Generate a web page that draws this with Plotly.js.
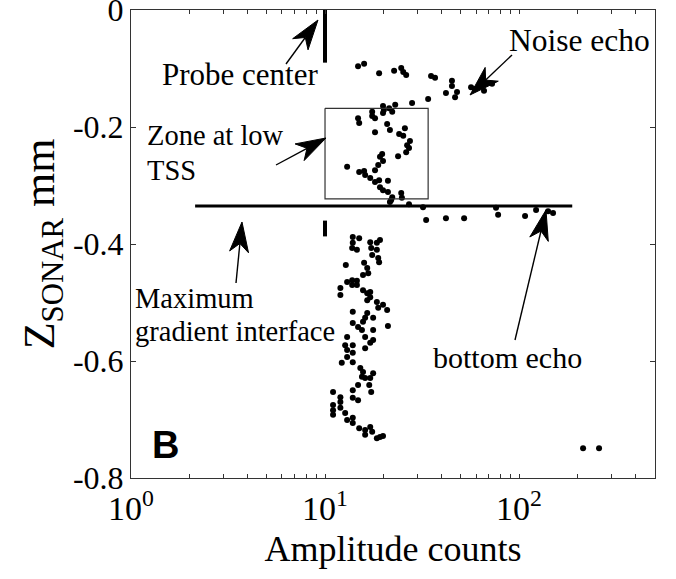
<!DOCTYPE html>
<html>
<head>
<meta charset="utf-8">
<script src="https://cdn.plot.ly/plotly-3.0.1.min.js"></script>
<style>html,body{margin:0;padding:0;background:#fff;}#chart{width:676px;height:579px;}</style>
</head>
<body>
<div id="chart"></div>
<script>
// ---- Data ----
// Noise echo and zone-at-low-TSS points (amplitude counts, Z mm)
const upperAmp = [14.8,15.9,19.0,22.7,24.7,25.3,26.2,35.2,36.9,45.1,45.1,42.0,47.9,46.8,56.6,59.3,66.0,72.6,34.0,28.1,23.0,19.9,21.4,20.1,17.5,
  17.5,18.1,19.9,22.2,14.8,15.0,20.9,21.6,25.8,18.1,24.1,25.3,27.4,26.5,27.1,26.2,19.7,19.2,19.9,23.8,18.8,18.1,13.0,15.0,15.9,16.1,17.1,18.1,19.0,21.1,
  19.2,19.9,21.1,22.2,21.9,24.7,24.9,27.1,32.0,21.6];
const upperZ = [-0.096,-0.092,-0.108,-0.104,-0.099,-0.106,-0.111,-0.113,-0.116,-0.121,-0.130,-0.142,-0.140,-0.149,-0.132,-0.135,-0.138,-0.126,-0.152,-0.159,-0.162,-0.164,-0.168,-0.171,-0.174,
  -0.181,-0.185,-0.176,-0.174,-0.185,-0.193,-0.195,-0.205,-0.202,-0.209,-0.212,-0.215,-0.224,-0.231,-0.236,-0.243,-0.246,-0.251,-0.258,-0.250,-0.265,-0.274,-0.268,-0.277,-0.275,-0.282,-0.287,-0.294,-0.291,-0.292,
  -0.303,-0.308,-0.311,-0.320,-0.325,-0.313,-0.321,-0.332,-0.337,-0.328];
// Bottom echo points
const bottomAmp = [33.2,42.0,52.1,76.1,78.0,107.4,122.4,141.1,149.7];
const bottomZ = [-0.359,-0.356,-0.356,-0.338,-0.350,-0.352,-0.342,-0.344,-0.347];
// Column of points below the interface
const lowerAmp = [13.9,15.0,13.9,13.8,14.6,17.1,18.5,19.2,17.3,18.5,17.5,18.8,19.0,12.8,15.9,16.5,16.7,15.7,13.0,13.8,14.6,14.6,13.8,12.0,12.0,
  15.7,16.5,17.1,17.1,16.5,18.5,19.9,20.9,18.8,13.9,16.5,16.1,15.7,13.9,14.8,17.7,21.1,17.7,15.5,13.0,
  12.7,13.9,13.0,13.9,13.0,12.2,13.9,16.1,17.7,17.1,16.1,15.2,15.7,15.5,17.7,16.1,17.1,16.9,14.8,17.3,13.9,13.9,14.8,
  11.0,12.0,12.0,11.0,11.0,11.0,12.0,12.7,13.0,13.9,13.9,15.0,16.1,17.1,16.1,17.5,18.5,19.2,19.9];
const lowerZ = [-0.388,-0.390,-0.398,-0.407,-0.410,-0.397,-0.398,-0.393,-0.407,-0.410,-0.419,-0.424,-0.431,-0.436,-0.432,-0.441,-0.450,-0.453,-0.465,-0.462,-0.463,-0.470,-0.470,-0.475,-0.487,
  -0.479,-0.484,-0.482,-0.491,-0.496,-0.499,-0.504,-0.513,-0.509,-0.516,-0.518,-0.526,-0.533,-0.535,-0.542,-0.526,-0.540,-0.547,-0.547,-0.559,
  -0.573,-0.573,-0.581,-0.586,-0.593,-0.603,-0.602,-0.559,-0.564,-0.569,-0.578,-0.612,-0.619,-0.627,-0.621,-0.629,-0.629,-0.641,-0.641,-0.653,-0.650,-0.663,-0.667,
  -0.653,-0.662,-0.670,-0.675,-0.684,-0.692,-0.680,-0.689,-0.701,-0.697,-0.706,-0.715,-0.718,-0.713,-0.726,-0.721,-0.732,-0.730,-0.728];
// Two far points at bottom right
const farAmp = [213.8, 258.4];
const farZ = [-0.749, -0.749];
// Probe center bar and short bar at 10 counts
const probeAmp = [10, 10];
const probeZ = [0, -0.09];
const shortBarAmp = [10, 10];
const shortBarZ = [-0.360, -0.387];
// Maximum gradient interface line
const interfaceAmp = [2.14, 188];
const interfaceZ = [-0.335, -0.335];
// Zone at low TSS box
const boxAmp = [10, 34, 34, 10, 10];
const boxZ = [-0.168, -0.168, -0.323, -0.323, -0.168];
// Axis ticks
const xMajorVals = [1, 10, 100];
const xMajorText = ['10<sup>0</sup>', '10<sup>1</sup>', '10<sup>2</sup>'];
const xMinorVals = [2,3,4,5,6,7,8,9,20,30,40,50,60,70,80,90,200,300,400,500];
const yTickVals = [0,-0.2,-0.4,-0.6,-0.8];
const yTickText = ['0','-0.2','-0.4','-0.6','-0.8'];

const serif = 'Liberation Serif, Times New Roman, serif';
const dot = {color:'#000', size:6};
const traces = [
  {x:upperAmp, y:upperZ, mode:'markers', marker:dot, type:'scatter', name:'noise/zone'},
  {x:bottomAmp, y:bottomZ, mode:'markers', marker:dot, type:'scatter', name:'bottom echo'},
  {x:lowerAmp, y:lowerZ, mode:'markers', marker:dot, type:'scatter', name:'lower'},
  {x:farAmp, y:farZ, mode:'markers', marker:dot, type:'scatter', name:'far'},
  {x:probeAmp, y:probeZ, mode:'lines', line:{color:'#000', width:4}, type:'scatter', name:'probe'},
  {x:shortBarAmp, y:shortBarZ, mode:'lines', line:{color:'#000', width:4}, type:'scatter', name:'bar'},
  {x:interfaceAmp, y:interfaceZ, mode:'lines', line:{color:'#000', width:3}, type:'scatter', name:'interface'},
  {x:boxAmp, y:boxZ, mode:'lines', line:{color:'#333', width:1.2}, type:'scatter', name:'box'}
];

// pixel -> paper helpers for annotation placement
const L0 = 131, R0 = 655, T0 = 10, B0 = 478;
function pxX(px){ return (px-L0)/(R0-L0); }
function pxY(py){ return (B0-py)/(B0-T0); }
function txt(text, px, py, size, opts){
  return Object.assign({text:text, xref:'paper', yref:'paper', x:pxX(px), y:pxY(py), showarrow:false,
    font:{family:serif, size:size, color:'#000'}, xanchor:'center', yanchor:'middle'}, opts||{});
}
// arrows drawn as shapes: shaft + filled kite head
function arrowShapes(tx, ty, hx, hy){
  const dx = hx-tx, dy = hy-ty, len = Math.hypot(dx, dy);
  const ux = dx/len, uy = dy/len, nx = -uy, ny = ux;
  const Lh = 30, Wh = 9.5, notch = 0.72*Lh;
  const bx = hx-ux*Lh, by = hy-uy*Lh;
  const p = [[hx,hy],[bx+nx*Wh, by+ny*Wh],[hx-ux*notch, hy-uy*notch],[bx-nx*Wh, by-ny*Wh]];
  const path = 'M' + p.map(q => pxX(q[0]).toFixed(5)+','+pxY(q[1]).toFixed(5)).join(' L') + ' Z';
  return [
    {type:'line', xref:'paper', yref:'paper', x0:pxX(tx), y0:pxY(ty), x1:pxX(hx-ux*notch), y1:pxY(hy-uy*notch),
      line:{color:'#000', width:1.4}},
    {type:'path', xref:'paper', yref:'paper', path:path, fillcolor:'#000', line:{color:'#000', width:1}}
  ];
}

const annotations = [
  txt('Probe center', 240, 75, 31),
  txt('Noise echo', 579, 40, 31.5),
  txt('Zone at low', 145, 135, 28.5, {xanchor:'left'}),
  txt('TSS', 145, 170, 28.5, {xanchor:'left'}),
  txt('Maximum', 133, 298, 28.5, {xanchor:'left'}),
  txt('gradient interface', 133, 331, 28.5, {xanchor:'left'}),
  txt('bottom echo', 507, 357, 30),
  {text:'<b>B</b>', xref:'paper', yref:'paper', x:pxX(165), y:pxY(445), showarrow:false,
    font:{family:'Liberation Sans, Arial, sans-serif', size:38, color:'#000'}, xanchor:'center', yanchor:'middle'}
];

const shapes = [].concat(
  arrowShapes(286, 64, 318, 20),
  arrowShapes(512, 55, 470, 95),
  arrowShapes(276, 165, 326, 138),
  arrowShapes(236, 283, 242, 222),
  arrowShapes(515, 340, 546, 210)
);

const layout = {
  width:676, height:579,
  margin:{l:131, r:21, t:10, b:101},
  paper_bgcolor:'#fff', plot_bgcolor:'#fff',
  showlegend:false,
  font:{family:serif, color:'#000'},
  xaxis:{type:'log', range:[0, Math.log10(502)], tickmode:'array', tickvals:xMajorVals, ticktext:xMajorText,
    ticks:'inside', ticklen:4, tickcolor:'#333', showline:true, linecolor:'#333', linewidth:1, mirror:'ticks',
    minor:{tickmode:'array', tickvals:xMinorVals, ticks:'inside', ticklen:4, tickcolor:'#333', showgrid:false},
    showgrid:false, zeroline:false, tickfont:{family:serif, size:34, color:'#000'},
    title:{text:'Amplitude counts', font:{family:serif, size:36, color:'#000'}, standoff:10}, automargin:false},
  yaxis:{range:[-0.8, 0], tickmode:'array', tickvals:yTickVals, ticktext:yTickText, ticklabeloverflow:'allow',
    ticks:'inside', ticklen:5, tickcolor:'#333', showline:true, linecolor:'#333', linewidth:1, mirror:'ticks',
    showgrid:false, zeroline:false, tickfont:{family:serif, size:32, color:'#000'},
    title:{text:'Z<sub>SONAR</sub> mm', font:{family:serif, size:44, color:'#000'}, standoff:4}, automargin:false},
  annotations:annotations,
  shapes:shapes
};

Plotly.newPlot('chart', traces, layout, {displayModeBar:false, staticPlot:true});
</script>
</body>
</html>
